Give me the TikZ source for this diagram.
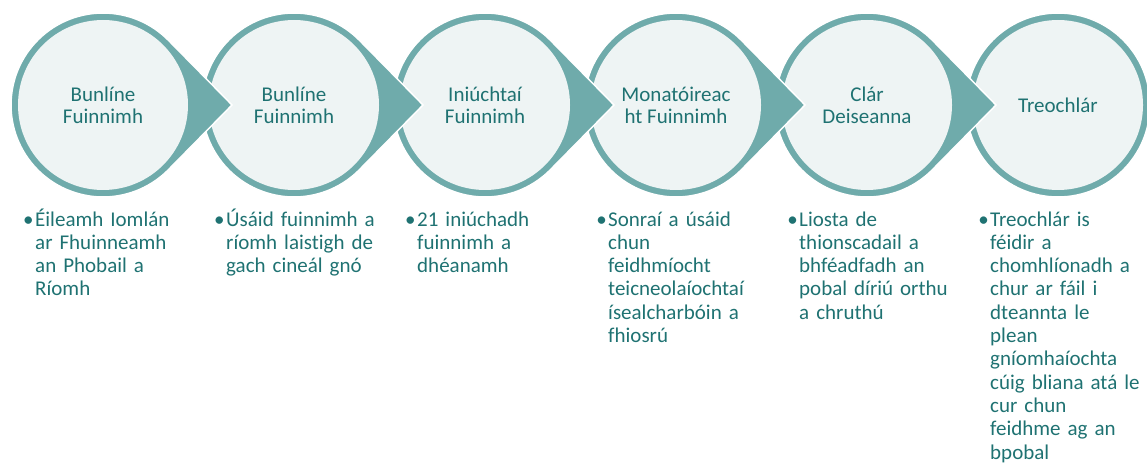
\documentclass[tikz,border=0pt]{standalone}
\usepackage{fontspec}
\setmainfont{Carlito}[Ligatures=NoCommon]
\definecolor{ringteal}{HTML}{6FABAB}
\definecolor{innerfill}{HTML}{EEF4F4}
\definecolor{labelteal}{HTML}{1F7272}
\begin{document}
\begin{tikzpicture}[x=1pt,y=1pt]

    \def \n {6}
    \def \gap {191}
    \def \rout {92}
    \def \rin {85}
    \def \tip {129}
    \def \cy {359}

    \tikzset{
        ring/.style={fill=ringteal,draw=white,line width=1.5pt},
        disc/.style={fill=innerfill},
        steplabel/.style={text=labelteal,align=center,inner sep=0pt,font=\fontsize{21}{22}\selectfont},
        desc/.style={text=labelteal,align=left,text width=175pt,anchor=base west,inner sep=0pt,font=\fontsize{21}{23.3}\selectfont}
    }

    \useasboundingbox (0,0) rectangle (1147,464);

    % Draw circles, right to left so each pointer lies on the next one
    \foreach \i in {6,5,...,1} {
        \pgfmathsetmacro \cx {103 + \gap * (\i - 1)}
        \ifnum \i < \n
            \path[ring] (\cx,\cy) ++(44.5:\rout) arc[start angle=44.5, end angle=315.5, radius=\rout] -- (\cx+\tip,\cy) -- cycle;
        \else
            \path[ring] (\cx,\cy) circle[radius=\rout];
        \fi
        \path[disc] (\cx,\cy) circle[radius=\rin];
    }

    % Step labels
    \foreach \i/\lbl in {1/{Bunlíne\\Fuinnimh}, 2/{Bunlíne\\Fuinnimh}, 3/{Iniúchtaí\\Fuinnimh},
                         4/{Monatóireac\\ht Fuinnimh}, 5/{Clár\\Deiseanna}, 6/{Treochlár}} {
        \pgfmathsetmacro \cx {103 + \gap * (\i - 1)}
        \node (c-\i) at (\cx,\cy) [steplabel] {\lbl};
    }

    % Descriptions
    \def \bul {\llap{\textbullet\hspace{1.5pt}}}
    \foreach \i/\txt in {
        1/{\bul Éileamh Iomlán\\ar Fhuinneamh\\an Phobail a\\Ríomh},
        2/{\bul Úsáid fuinnimh a\\ríomh laistigh de\\gach cineál gnó},
        3/{\bul 21 iniúchadh\\fuinnimh a\\dhéanamh},
        4/{\bul Sonraí a úsáid\\chun\\feidhmíocht\\teicneolaíochtaí\\ísealcharbóin a\\fhiosrú},
        5/{\bul Liosta de\\thionscadail a\\bhféadfadh an\\pobal díriú orthu\\a chruthú},
        6/{\bul Treochlár is\\féidir a\\chomhlíonadh a\\chur ar fáil i\\dteannta le\\plean\\gníomhaíochta\\cúig bliana atá le\\cur chun\\feidhme ag an\\bpobal}} {
        \pgfmathsetmacro \dx {103 + \gap * (\i - 1) - 68}
        \node (d-\i) at (\dx,238) [desc] {\txt};
    }

\end{tikzpicture}
\end{document}
